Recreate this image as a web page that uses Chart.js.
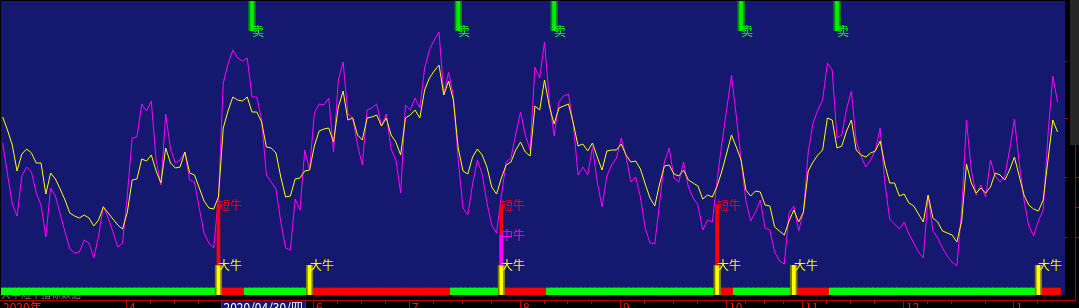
<!DOCTYPE html>
<html>
<head>
<meta charset="utf-8">
<script src="https://cdn.jsdelivr.net/npm/chart.js@4.4.1/dist/chart.umd.min.js"></script>
<style>
html, body { margin: 0; padding: 0; background: #000; }
canvas { display: block; }
</style>
</head>
<body>
<canvas id="bullChart" width="1079" height="308"></canvas>
<script>
// Indicator lines, one value per trading day
const fastLine = [
    152,121,91,79,119,128,123,102,90,58,
    107,99,81,63,46,42,43,55,52,37,
    59,89,77,63,48,52,100,157,158,191,
    184,194,135,110,181,146,132,135,143,115,
    113,87,62,52,47,97,212,231,245,237,
    234,237,198,198,175,120,113,106,73,47,
    45,96,85,145,125,182,191,190,197,143,
    215,233,181,177,150,130,185,187,191,169,
    181,146,135,102,190,185,197,187,227,245,
    255,263,201,223,199,135,87,80,111,135,
    121,92,70,62,99,133,137,161,183,160,
    145,228,217,253,195,159,193,199,201,171,
    120,128,120,148,113,88,119,130,137,157,
    139,113,118,98,67,52,51,92,133,147,
    117,113,133,108,97,90,65,75,73,115,
    152,186,220,179,135,94,74,83,95,67,
    65,43,34,31,82,89,64,83,143,172,
    185,195,232,225,157,160,186,204,154,139,
    128,135,145,167,111,76,71,66,73,61,
    52,43,37,99,64,57,47,39,33,29,
    85,175,125,100,110,98,135,119,113,119,
    145,176,132,95,69,59,74,85,160,219,193
];
const slowLine = [
    178,165,150,124,141,146,142,132,132,101,
    122,116,106,95,82,79,77,80,77,69,
    75,88,82,76,70,66,83,115,116,136,
    134,140,124,112,147,132,127,128,143,122,
    120,107,94,87,86,98,167,184,198,195,
    194,198,183,183,173,148,147,142,118,98,
    99,116,117,124,125,149,164,166,167,153,
    188,204,175,177,160,155,177,178,180,169,
    177,160,153,140,177,180,185,177,205,217,
    224,230,200,214,195,147,124,121,138,146,
    140,128,108,101,117,130,133,145,153,143,
    139,189,185,215,189,171,187,189,191,172,
    149,151,144,152,138,125,144,145,145,151,
    140,133,134,126,111,97,89,111,129,130,
    121,119,125,115,112,109,96,100,98,109,
    124,142,160,148,135,105,99,104,103,90,
    89,68,64,60,74,85,73,83,124,133,
    140,145,177,175,147,149,164,175,145,140,
    138,142,144,154,130,112,112,99,101,92,
    89,81,73,100,77,73,64,62,60,53,
    74,131,112,102,107,102,108,122,120,115,
    125,138,119,100,90,86,84,95,135,175,163
];

// Signal days (index into the series)
const bigBullDays = [45, 64, 104, 149, 165, 216];
const shortBullDays = [45, 104, 149];
const midBullDays = [104];
const sellDays = [52, 95, 115, 154, 174];

// Red parts of the state strip, first and last day
const redStart = [45, 64, 104, 149, 165, 216];
const redEnd = [50, 93, 113, 152, 172, 220];

// Bottom axis
const monthDays = [0, 26, 65, 85, 108, 129, 151, 167, 188, 211];
const monthLabels = ['2020年', '4', '6', '7', '8', '9', '10', '11', '12', '1'];
const weekDays = [31, 36, 41, 70, 75, 80, 90, 96, 102, 113, 118, 123, 134, 140, 145,
    155, 159, 163, 172, 177, 182, 193, 198, 205, 216];
const cursorDay = 46;
const cursorLabel = '2020/04/30/四';
const levelTicks = [58, 118, 177, 234];

const days = fastLine.map((v, i) => i);
const points = arr => arr.map((v, i) => ({ x: i, y: v }));
const spans = (list, lo, hi) => list.map(d => ({ x: d, y: [lo, hi] }));
const isRed = i => redStart.some((s, k) => i >= s && i <= redEnd[k]);

const CJK = '"Noto Sans CJK SC", sans-serif';

const frame = {
    id: 'frame',
    beforeDraw(chart) {
        const { ctx, chartArea: a, width, height } = chart;
        ctx.save();
        ctx.fillStyle = '#000';
        ctx.fillRect(0, 0, width, height);
        ctx.fillStyle = '#15186f';
        ctx.fillRect(a.left, a.top, a.right - a.left, a.bottom - a.top);
        // grey caption mostly hidden under the strip
        ctx.beginPath();
        ctx.rect(0, a.bottom, a.right, 5);
        ctx.clip();
        ctx.fillStyle = '#7c7c7c';
        ctx.font = '10px ' + CJK;
        ctx.textBaseline = 'bottom';
        ctx.fillText('大中短牛指标数据', 1, a.bottom + 4);
        ctx.restore();
    },
    afterDraw(chart) {
        const { ctx, chartArea: a, width, height } = chart;
        const xs = chart.scales.x, ys = chart.scales.y;
        ctx.save();

        // signal labels
        ctx.font = '12px ' + CJK;
        ctx.textBaseline = 'middle';
        const tag = (list, level, text, color) => {
            ctx.fillStyle = color;
            list.forEach(d => ctx.fillText(text, Math.round(xs.getPixelForValue(d)), ys.getPixelForValue(level)));
        };
        tag(sellDays, 264, '卖', '#00ff00');
        tag(shortBullDays, 90, '短牛', '#ff0000');
        tag(midBullDays, 60, '中牛', '#ff00ff');
        tag(bigBullDays, 30, '大牛', '#ffff00');

        // right side panel and scale
        const rx = a.right + 10.5;
        const base = a.bottom + 5;
        ctx.fillStyle = '#262626';
        ctx.fillRect(a.right + 5, 0, width - a.right - 5, 145);
        ctx.strokeStyle = '#b00000';
        ctx.lineWidth = 1;
        ctx.beginPath();
        ctx.moveTo(rx, 145);
        ctx.lineTo(rx, base);
        [177, 207, 237].forEach(t => { ctx.moveTo(rx, t + 0.5); ctx.lineTo(width, t + 0.5); });
        levelTicks.forEach(v => {
            const py = Math.round(ys.getPixelForValue(v)) + 0.5;
            ctx.moveTo(a.right, py);
            ctx.lineTo(a.right + 2, py);
        });
        // bottom axis line and ticks
        ctx.moveTo(0, base + 0.5);
        ctx.lineTo(rx, base + 0.5);
        weekDays.forEach(d => {
            const px = Math.round(xs.getPixelForValue(d)) - 0.5;
            ctx.moveTo(px, base);
            ctx.lineTo(px, base + 4);
        });
        monthDays.forEach((d, k) => {
            if (k === 0) return;
            const px = Math.round(xs.getPixelForValue(d)) - 0.5;
            ctx.moveTo(px, base);
            ctx.lineTo(px, height);
        });
        ctx.stroke();

        ctx.textBaseline = 'top';
        ctx.fillStyle = '#ff1818';
        monthDays.forEach((d, k) => {
            const px = Math.round(xs.getPixelForValue(d));
            ctx.fillText(monthLabels[k], k === 0 ? px : px + 2, base + 1);
        });

        // cursor date box
        const cx = Math.round(xs.getPixelForValue(cursorDay)) - 1.5;
        const w = Math.ceil(ctx.measureText(cursorLabel).width) + 4;
        ctx.fillStyle = '#15186f';
        ctx.fillRect(cx, base, w, height - base);
        ctx.strokeStyle = '#c00000';
        ctx.strokeRect(cx, base + 0.5, w, height);
        ctx.fillStyle = '#ffffff';
        ctx.fillText(cursorLabel, cx + 2, base + 1);
        ctx.restore();
    }
};

const ctx = document.getElementById('bullChart').getContext('2d');

const bullChart = new Chart(ctx, {
    type: 'line',
    data: {
        datasets: [
            {
                type: 'bar', label: '中牛', data: spans(midBullDays, 30, 60),
                backgroundColor: '#ff00ff', barThickness: 3, grouped: false, order: 1
            },
            {
                type: 'bar', label: '短牛', data: spans(shortBullDays, 30, 90),
                backgroundColor: '#ff0000', barThickness: 3, grouped: false, order: 2
            },
            {
                type: 'bar', label: '大牛', data: spans(bigBullDays, 0, 30),
                backgroundColor: '#ffff00', borderColor: '#808000',
                borderWidth: { left: 2, right: 2, top: 0, bottom: 0 }, borderSkipped: false,
                barThickness: 7, grouped: false, order: 3
            },
            {
                type: 'bar', label: '卖', data: spans(sellDays, 264, 294),
                backgroundColor: '#00f000', borderColor: '#009000',
                borderWidth: { left: 2, right: 2, top: 0, bottom: 0 }, borderSkipped: false,
                barThickness: 7, grouped: false, order: 3
            },
            {
                label: 'slow', data: points(slowLine), borderColor: '#ffff00',
                borderWidth: 1, pointRadius: 0, tension: 0, order: 4
            },
            {
                label: 'fast', data: points(fastLine), borderColor: '#ff00ff',
                borderWidth: 1, pointRadius: 0, tension: 0, order: 5
            },
            {
                type: 'bar', label: 'state', data: days.map(i => ({ x: i, y: [0, 7] })),
                backgroundColor: days.map(i => isRed(i) ? '#ff0000' : '#00ff00'),
                barThickness: 6, grouped: false, order: 9
            }
        ]
    },
    options: {
        responsive: false,
        animation: false,
        devicePixelRatio: 1,
        events: [],
        layout: { padding: { left: 1, top: 1, right: 14, bottom: 13 } },
        plugins: { legend: { display: false }, tooltip: { enabled: false } },
        scales: {
            x: { type: 'linear', min: -0.35, max: 221.55, offset: false, display: false },
            y: { type: 'linear', min: 0, max: 294, display: false }
        }
    },
    plugins: [frame]
});
</script>
</body>
</html>
